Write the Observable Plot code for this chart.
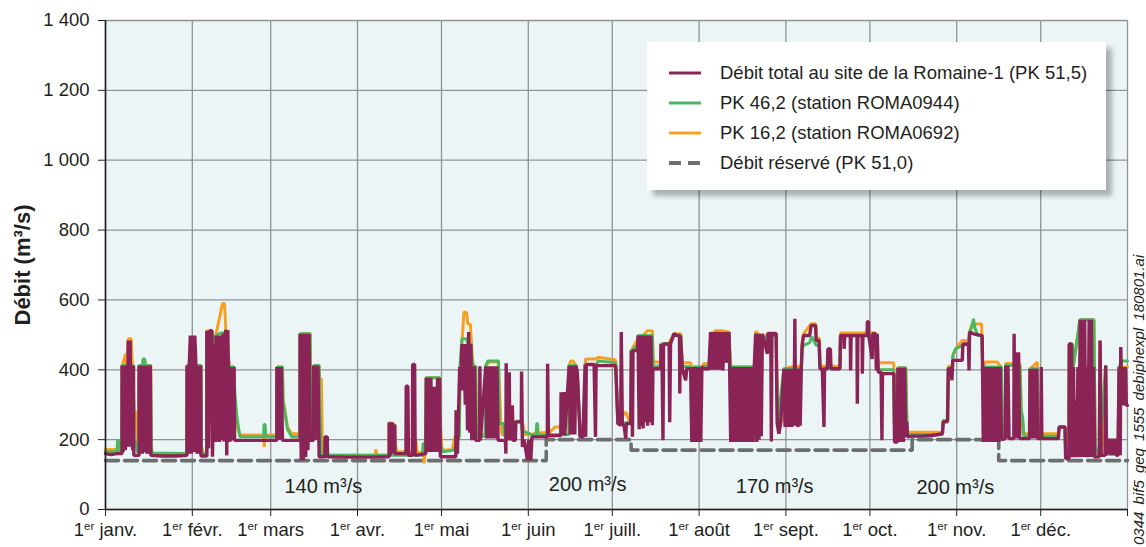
<!DOCTYPE html>
<html lang="fr">
<head>
<meta charset="utf-8">
<script src="https://cdn.jsdelivr.net/npm/d3@7"></script>
<script src="https://cdn.jsdelivr.net/npm/@observablehq/plot@0.6"></script>
<style>
  html, body { margin: 0; padding: 0; background: #ffffff; }
  #wrap { position: relative; width: 1146px; height: 547px; font-family: "Liberation Sans", Arial, sans-serif; color: #231f20; overflow: hidden; }
  #legend { position: absolute; left: 647px; top: 42px; width: 459px; height: 148px; background: #ffffff;
            box-shadow: 6px 6px 5px rgba(0,0,0,0.28); }
  #legend .row { position: absolute; left: 0; height: 30px; display: flex; align-items: center; font-size: 18.5px; white-space: nowrap; }
  #legend .row svg { margin-left: 22px; margin-right: 19px; }
  #fileref { position: absolute; left: 1131px; top: 545px; transform-origin: 0 0; transform: rotate(-90deg);
             font-size: 15px; font-style: italic; white-space: nowrap; word-spacing: 3px; line-height: 15px; height: 15px; color: #231f20; }
</style>
</head>
<body>
<div id="wrap"></div>
<script>
// ---- Data (day of year from 1 January, flow in m³/s) ----
const monthStarts = [0, 31, 59, 90, 120, 151, 181, 212, 243, 273, 304, 334, 365];
const monthLabels = ["1er janv.", "1er févr.", "1er mars", "1er avr.", "1er mai", "1er juin", "1er juill.", "1er août", "1er sept.", "1er oct.", "1er nov.", "1er déc.", ""];
const yTicks = [0, 200, 400, 600, 800, 1000, 1200, 1400];

const seriesNames = ["Débit total au site de la Romaine-1 (PK 51,5)", "PK 46,2 (station ROMA0944)", "PK 16,2 (station ROMA0692)", "Débit réservé (PK 51,0)"];

// Débit total au site de la Romaine-1 (PK 51,5)
const totalFlow = [
[0,160],[2,157],[4,160],[5.9,160],
[5.9,412],[6.3,165],[6.7,412],[7.1,170],[7.5,412],[7.9,180],[8.1,484],[8.5,200],[8.8,484],[9.1,180],[9.3,412],[9.7,170],[10.0,412],[10.1,155],
[12.0,155],[12.0,412],[12.4,160],[12.8,412],[13.2,160],[13.6,412],[14.0,165],[14.4,412],[14.8,160],[15.2,412],[15.6,160],[16.0,412],[16.2,155],
[20,153],[25,153],[29.1,155],
[29.1,412],[29.5,160],[29.9,412],[30.3,498],[30.7,160],[31.1,498],[31.5,165],[31.9,498],[32.3,412],[32.7,160],[33.1,412],[33.5,160],[34.0,412],[34.1,153],
[36.2,153],[36.2,512],[36.8,175],[37.3,512],[38.0,512],[38.2,151],
[38.8,474],[39.2,193],[39.5,498],[39.9,195],[40.3,498],[40.7,193],[41.2,498],[41.5,200],[41.9,503],[42.3,195],[42.7,503],[43.0,514],[43.3,155],[43.7,514],[44.1,193],[44.3,408],[44.7,195],[45.1,408],[45.5,200],[45.9,408],[46.1,198],
[50,198],[55,198],[61.2,198],
[61.2,408],[61.6,200],[62.0,408],[62.4,200],[62.8,408],[63.2,198],
[66,198],[69.5,198],
[69.5,503],[69.9,141],[70.3,503],[70.7,141],[71.1,503],[71.5,150],[71.9,503],[72.3,170],[72.7,503],[73.1,198],
[74.3,198],[74.3,412],[74.7,200],[75.1,412],[75.5,200],[75.9,412],[76.3,151],
[78.3,151],[78.4,208],[79.2,208],[79.3,151],
[85,150],[89.4,150],[95,150],[101.3,151],
[101.3,249],[101.7,155],[102.1,249],[102.5,243],[102.9,160],[103.3,243],[103.4,160],
[107.3,160],[107.4,353],[108.0,353],[108.2,155],
[109.6,155],[109.7,415],[110.4,415],[110.6,155],
[114.4,160],[114.6,377],[115.0,165],[115.4,377],[115.8,165],[116.2,377],[116.6,165],[117.0,351],[117.4,165],[117.8,351],[118.2,165],[118.6,377],[119.0,165],[119.3,377],[119.6,151],
[122,151],[125.1,151],[125.2,284],[125.7,160],
[126.5,408],[126.9,341],[127.3,474],[127.7,341],[128.1,474],[128.5,300],[128.9,474],[129.3,227],[129.7,508],[130.1,220],[130.5,474],[130.8,198],
[131.0,410],[131.4,200],[131.8,410],[132.2,198],
[133.6,198],[133.7,410],[133.9,198],
[135.8,410],[136.2,203],[136.6,410],[137.0,203],[137.4,410],[137.8,203],[138.2,410],[138.6,203],[139.0,410],[139.4,203],[139.8,410],[140.2,198],
[141.5,198],[142.8,198],[143.0,160],[143.1,419],[143.3,198],
[144.2,393],[144.4,198],[145.3,298],[145.5,198],
[146.4,198],[146.5,251],[148.5,251],[148.6,395],[148.9,179],[149.5,200],
[150.7,141],[151.2,200],[151.9,141],[152.3,208],
[157.8,208],[157.9,417],[158.2,212],
[162.6,212],[162.7,336],[163.0,212],[163.8,336],[164.0,212],
[165.6,412],[166.0,215],[166.4,412],[166.8,215],[167.2,412],[167.6,215],[168.0,412],
[168.5,393],[169.5,208],[170.5,208],[171.3,415],[171.5,208],[171.7,415],[172.5,415],[173.5,415],[174.5,415],[175.0,208],[175.2,412],
[178,412],[180.4,412],[182.2,412],
[183.0,246],[184.0,241],[184.2,508],[184.6,241],[185.2,241],[185.8,203],[186.0,246],[187.6,246],[187.8,455],[188.2,208],[188.4,455],[190.0,455],
[190.2,498],[190.6,230],[191.0,498],[191.4,240],[191.8,498],[192.0,232],[192.4,498],[192.8,250],[193.2,498],[193.6,240],[194.0,498],[194.4,250],[194.8,498],[195.3,241],[195.5,403],
[197,403],[198.3,403],[198.4,474],[198.8,403],[199.1,198],[199.3,474],[200.5,474],[201.3,474],[201.5,250],[201.8,474],[203.0,503],[204.2,498],[205.0,498],[205.1,332],[205.3,498],[206.0,403],
[207.2,370],[207.6,403],[209.0,403],
[209.4,193],[209.8,408],[210.2,193],[210.6,408],[211.0,193],[211.4,408],[211.8,193],[212.2,408],[212.6,193],[213.0,408],[213.7,403],
[215.5,403],[216.1,508],[216.5,400],[216.9,508],[217.3,400],[217.7,508],[218.1,400],[218.5,508],[218.9,400],[219.3,508],[219.7,400],[220.1,508],[220.5,398],[220.9,508],[221.3,420],[221.7,508],[222.1,420],[222.7,508],
[223.3,193],[223.7,408],[224.1,193],[224.5,408],[224.9,193],[225.3,408],[225.7,193],[226.1,408],[226.5,193],[226.9,408],[227.3,193],[227.7,408],[228.1,193],[228.5,408],[228.9,193],[229.3,408],[229.7,193],[230.1,408],[230.5,193],[230.9,408],[231.3,193],[231.7,408],
[232.2,503],[232.6,193],[233.0,503],[233.4,200],[233.8,503],[234.2,210],[234.6,503],[235.2,484],[236.4,446],[236.6,503],[237.6,503],[237.8,195],[238.0,503],[239.5,503],[239.9,246],[240.5,217],[241.1,246],
[242.3,403],[242.7,236],[243.1,403],[243.5,236],[243.9,403],[244.3,236],[244.7,403],[245.1,236],[245.5,403],[245.9,240],[246.2,546],[246.5,240],[246.9,403],[247.3,236],[247.7,403],[248.1,240],[248.5,403],
[248.8,470],[249.3,498],[251.5,498],[252.0,527],[253.6,527],[253.8,484],[254.8,484],
[255.2,403],[256.0,403],[256.6,236],[256.8,403],[257.8,403],[258.0,460],[258.9,460],[259.1,403],[262.3,403],
[262.5,498],[263.7,498],[263.8,460],[264.0,498],[266.0,498],[266.1,398],[266.3,498],[268.4,498],[268.5,303],[268.7,498],[270.2,498],[270.3,389],[270.5,498],[272.0,498],[272.1,538],[272.5,538],[272.6,498],
[273.8,431],[274.0,503],[275.0,503],[275.3,398],[275.6,503],[276.0,393],[277.0,393],[277.3,198],[277.5,389],[281.6,389],
[281.8,193],[282.8,193],
[283.0,406],[283.4,193],[283.8,406],[284.2,193],[284.6,406],[285.0,193],[285.4,406],[285.8,208],
[286.2,251],[286.4,208],[288,210],[292,210],[295.3,212],[298.9,217],
[299.2,251],[300.7,251],[301.0,403],[302.0,403],[302.3,370],[302.6,427],[306.0,427],[306.2,474],[308.2,474],[308.4,398],[308.6,508],[310,503],[313.1,498],
[313.5,193],[313.9,408],[314.3,193],[314.7,408],[315.1,193],[315.5,408],[315.9,193],[316.3,408],[316.7,193],[317.1,408],[317.5,193],[317.9,408],[318.3,193],[318.7,408],[319.1,193],[319.5,408],[320.0,200],
[321.3,203],[321.5,412],[321.9,203],[322.3,412],[322.7,203],[324.4,203],[324.5,503],[324.8,203],[325.3,450],[325.7,203],[326.1,450],[326.5,203],[330.0,203],
[330.2,403],[330.6,203],[331.0,403],[331.4,203],[331.8,403],[332.2,203],[332.6,403],[332.9,203],[334.1,203],[334.2,408],[334.4,203],
[338,203],[340.3,203],[340.6,236],[342.7,236],[342.9,146],[344.1,146],[344.2,474],[345.0,474],[345.3,150],
[345.7,408],[346.1,150],[346.5,312],[346.9,150],[347.3,408],[347.7,150],[348.1,543],[348.5,150],[348.9,543],[349.3,150],[349.7,543],[350.1,150],[350.5,408],[350.9,150],[351.3,543],[351.7,150],[352.1,543],[352.5,150],[352.9,408],[353.3,150],
[354.9,151],[355.2,484],[355.6,155],[357.0,155],[357.2,412],[357.5,155],[358.5,203],[359.0,155],[359.5,203],[360.0,155],[360.5,203],[361.0,155],[361.6,155],
[362.0,408],[362.4,155],[362.6,465],[363.0,298],[363.4,408],[363.8,298],[364.2,408],[364.6,298],[365,298]
];

// PK 46,2 (station ROMA0944)
const station0944 = [
[0,165],[4.1,165],[4.3,198],[4.7,198],[4.9,168],[5.8,168],[6.0,412],[9.9,412],[10.2,193],[10.9,193],[11.3,165],[11.9,165],[12.0,412],[13.2,412],[13.4,431],[14.0,431],[14.3,412],[16.1,412],[16.3,162],
[29.0,160],[29.2,412],[34.1,412],[34.3,160],[36.1,160],[36.2,505],[38.0,505],[38.3,460],[39.4,498],[41.2,505],[43.3,505],[44.2,408],[45.9,408],[46.2,332],[47.0,260],[48.0,208],
[56.5,208],[56.6,243],[57.0,243],[57.2,208],[61.2,208],[61.3,408],[63.2,408],[63.4,312],[64.0,280],[65.0,230],[66.5,208],[69.4,208],[69.5,503],[73.1,503],[73.3,208],[74.3,208],[74.4,412],[76.3,412],[76.5,300],[77.0,155],
[113.2,155],[113.4,189],[113.9,189],[114.3,165],[114.5,377],[119.3,377],[119.6,193],[120.3,165],[124.5,170],[125.5,195],[126.4,210],[126.6,408],[127.3,489],[128.9,489],[129.4,474],[130.5,474],[130.9,430],[131.3,410],[132.2,410],[132.5,210],
[135.6,210],[135.8,410],[136.5,425],[140.4,425],[140.6,246],[142.2,246],[142.5,210],[146.4,215],[146.6,253],[148.3,253],[148.8,225],[153.8,210],[154.0,246],[154.3,246],[154.5,212],
[165.5,215],[165.6,412],[168.0,412],[168.5,393],[169.5,212],[171.3,212],[171.4,415],[175.2,415],[176.0,425],[182.2,420],[183.0,246],[187.6,250],[187.8,455],[190.0,470],[190.2,498],[195.3,498],[195.6,410],[198.3,410],[198.4,474],[201.5,474],[203,498],[205.5,498],[206.0,410],[209.0,408],[209.3,240],[210.0,200],[210.3,408],[213.0,408],[213.7,410],[216.0,410],[216.4,505],[222.5,505],
[223.3,408],[232.0,408],[232.2,503],[235.2,484],[236.5,498],[239.5,498],[240.0,246],[242.3,403],[248.5,403],[248.8,460],[249.3,470],[251.5,478],[252.2,495],[253.8,470],[255.0,470],[255.2,403],[262.3,403],[262.5,498],[275.0,498],[275.6,400],[281.5,400],[281.7,245],[282.8,200],[283.0,406],[285.8,406],[286.3,215],
[298.9,215],[299.2,255],[300.8,255],[301.0,405],[302.4,405],[302.6,440],[303.6,460],[306.0,470],[308.2,474],[308.6,505],[309.5,525],[310.0,546],[310.5,520],[311.5,498],[312.9,498],[313.3,408],[320.0,408],[320.3,210],[321.4,210],[321.5,412],[326.6,412],[327.0,290],[327.6,260],[328.0,210],[330.1,210],[330.2,403],[332.8,403],[333.2,210],
[340.3,210],[340.6,236],[342.6,236],[342.9,160],[344.1,160],[344.2,474],[345.3,474],[345.6,408],[348.0,543],[353.0,543],[353.5,180],[354.5,160],[355.0,155],[357.2,412],[357.6,160],[361.6,160],[362.0,408],[363.0,425],[365,425]
];

// PK 16,2 (station ROMA0692)
const station0692 = [
[0,172],[5.8,172],[6.0,412],[7.2,446],[7.5,412],[8.2,489],[9.2,489],[9.6,412],[10.2,279],[10.9,279],[11.5,170],[11.9,170],[12.0,412],[13.8,412],[14.1,422],[14.6,360],[15.1,360],[15.4,412],[16.2,412],[16.3,181],[16.8,160],
[29.0,158],[29.2,412],[34.1,412],[34.3,179],[35.0,160],[36.1,160],[36.2,512],[38.0,512],[38.3,474],[39.4,498],[41.0,560],[41.8,590],[42.5,590],[43.0,514],[44.2,408],[45.9,408],[46.2,293],[47.0,240],[48.0,213],
[56.5,213],[56.7,179],[57.0,213],[61.2,213],[61.3,408],[63.2,408],[63.4,317],[64.0,290],[65.0,235],[66.5,217],[69.4,217],[69.5,503],[73.1,503],[73.3,217],[74.3,217],[74.4,412],[76.3,412],[76.5,374],[77.1,374],[77.5,158],
[80,155],[88,155],[96.3,155],[96.5,172],[97,155],[101.2,155],[101.3,249],[103.3,243],[103.5,189],[104.0,165],[110.6,165],[110.8,203],[111.3,165],[113.6,160],[113.8,132],[114.2,165],[114.5,377],[119.3,377],[119.6,246],[120.2,170],
[123.8,170],[124.8,208],[126.4,220],[126.6,408],[127.3,474],[128.0,565],[128.9,565],[129.4,531],[130.3,531],[130.9,450],[131.3,410],[132.2,410],[132.5,215],[135.6,215],[135.8,410],[137.0,422],[140.2,422],[140.6,374],[141.2,246],[141.6,215],
[144.8,215],[145.3,298],[145.7,215],[146.4,230],[146.6,251],[148.6,251],[149.2,241],[149.7,215],[152.5,215],[153.5,220],[158.5,220],[160.5,236],[162.5,236],[162.8,215],[165.5,215],[165.6,412],[166.2,425],[167.0,425],[168.0,412],[168.5,393],[169.5,215],
[171.2,215],[171.4,431],[175.2,431],[176.0,436],[182.2,428],[183.0,255],[185.8,279],[187.0,255],[187.6,255],[187.8,455],[189.8,484],[191.0,484],[192.0,498],[193.5,512],[195.3,512],[195.6,422],[198.3,422],[198.4,474],[201.0,474],[203.0,503],[205.5,503],[206.0,420],[209.0,420],[209.3,408],[213.0,408],[213.7,418],[216.0,418],[216.4,493],[217.6,493],[217.7,512],[220.0,512],[222.7,508],
[223.3,408],[232.0,408],[232.2,510],[235.2,490],[236.5,505],[239.5,505],[240.0,260],[241.5,250],[242.3,403],[246.0,410],[248.5,410],[248.8,475],[249.3,503],[252.0,532],[253.6,532],[254.0,490],[255.0,490],[255.2,410],[262.3,410],[262.5,505],[275.0,505],[275.8,420],[281.5,420],[281.7,250],[282.8,240],[283.0,406],[285.8,406],[286.3,221],
[298.9,221],[299.2,255],[300.8,255],[301.0,410],[302.4,410],[302.8,446],[304.5,470],[306.0,484],[308.2,484],[308.6,510],[309.5,531],[312.9,531],[313.3,408],[314.3,422],[318.5,422],[319.8,408],[320.3,230],[321.4,230],[321.5,418],[326.6,418],[327.2,260],[327.8,217],[330.1,217],[330.2,403],[332.8,422],[333.2,217],
[340.3,217],[340.6,236],[342.6,236],[342.9,189],[343.9,189],[344.2,474],[345.3,474],[345.6,408],[348.0,543],[353.0,543],[353.5,160],[355.1,160],[355.2,484],[355.8,160],[357.2,412],[357.6,160],[361.6,160],[362.0,408],[365,408]
];

// Débit réservé (PK 51,0) — steps
const reservedFlow = [[0,140],[157.4,200],[187.7,170],[288.1,200],[319.0,140],[365,140]];
const reservedLabels = ["140 m³/s", "200 m³/s", "170 m³/s", "200 m³/s"];
const reservedLabelDay = [77.8, 172.2, 239.0, 303.5];
const reservedLabelFlow = [66, 70, 66, 64];

// ---- Styles ----
const colors = ["#8a2457", "#4db75f", "#f8a021", "#6d6e70"];
const font = "'Liberation Sans', Arial, sans-serif";

const rows = a => a.map(([day, flow]) => ({day, flow}));
const labelOf = d => monthLabels[monthStarts.indexOf(d)];
const fmtY = d => d >= 1000 ? `${Math.floor(d / 1000)} ${String(d % 1000).padStart(3, "0")}` : `${d}`;

const chart = Plot.plot({
  width: 1146, height: 547,
  marginLeft: 105, marginRight: 19, marginTop: 20, marginBottom: 38,
  style: {fontFamily: font, fontSize: "18.5px", color: "#231f20", background: "transparent", overflow: "visible"},
  x: {domain: [0, 365], axis: null},
  y: {domain: [0, 1400], axis: null},
  marks: [
    Plot.frame({fill: "#ebf5f6", stroke: null}),
    Plot.gridX(monthStarts, {stroke: "#8f9394", strokeOpacity: 1, strokeWidth: 1.3}),
    Plot.gridY(yTicks, {stroke: "#8f9394", strokeOpacity: 1, strokeWidth: 1.3}),
    Plot.line(rows(reservedFlow), {x: "day", y: "flow", curve: "step-after", stroke: colors[3], strokeWidth: 3.6, strokeDasharray: "13,6"}),
    Plot.line(rows(station0692), {x: "day", y: "flow", stroke: colors[2], strokeWidth: 3, strokeLinejoin: "miter"}),
    Plot.line(rows(station0944), {x: "day", y: "flow", stroke: colors[1], strokeWidth: 3, strokeLinejoin: "miter"}),
    Plot.line(rows(totalFlow), {x: "day", y: "flow", stroke: colors[0], strokeWidth: 3.4, strokeLinejoin: "miter"}),
    Plot.text(reservedLabels, {x: reservedLabelDay, y: reservedLabelFlow, fontSize: 20, fill: "#231f20", lineAnchor: "middle"}),
    Plot.ruleX([0], {stroke: "#231f20", strokeWidth: 1.6}),
    Plot.ruleY([0], {stroke: "#231f20", strokeWidth: 1.6}),
    Plot.axisX({ticks: monthStarts, tickFormat: labelOf, tickSize: 7, tickPadding: 6, stroke: "#231f20", fontSize: 18.5, label: null}),
    Plot.axisY({ticks: yTicks, tickFormat: fmtY, tickSize: 7, tickPadding: 9, stroke: "#231f20", fontSize: 18.5, label: null}),
    Plot.text(["Débit (m³/s)"], {frameAnchor: "left", textAnchor: "middle", dx: -83, rotate: -90, fontWeight: "bold", fontSize: 22, fill: "#231f20"})
  ]
});

// superscript "er" in the month labels
const NS = "http://www.w3.org/2000/svg";
chart.querySelectorAll('g[aria-label="x-axis tick label"] text').forEach(t => {
  const s = t.textContent;
  if (!s.startsWith("1er")) return;
  t.textContent = "";
  const a = document.createElementNS(NS, "tspan"); a.textContent = "1";
  const b = document.createElementNS(NS, "tspan"); b.textContent = "er"; b.setAttribute("dy", "-6"); b.setAttribute("font-size", "11.5");
  const c = document.createElementNS(NS, "tspan"); c.textContent = s.slice(3); c.setAttribute("dy", "6");
  t.append(a, b, c);
});

const wrap = document.getElementById("wrap");
wrap.append(chart);

// legend
const legend = document.createElement("div");
legend.id = "legend";
seriesNames.forEach((name, i) => {
  const row = document.createElement("div");
  row.className = "row";
  row.style.top = `${16 + i * 30}px`;
  const dash = i === 3 ? `stroke-dasharray="12,7"` : "";
  const sw = i === 3 ? 4 : 3;
  row.innerHTML = `<svg width="32" height="10"><line x1="0" x2="32" y1="5" y2="5" stroke="${colors[i]}" stroke-width="${sw}" ${dash}/></svg><span>${name}</span>`;
  legend.append(row);
});
wrap.append(legend);

const ref = document.createElement("div");
ref.id = "fileref";
ref.textContent = "0344 bif5 geq 1555 debiphexpl 180801.ai";
wrap.append(ref);
</script>
</body>
</html>
